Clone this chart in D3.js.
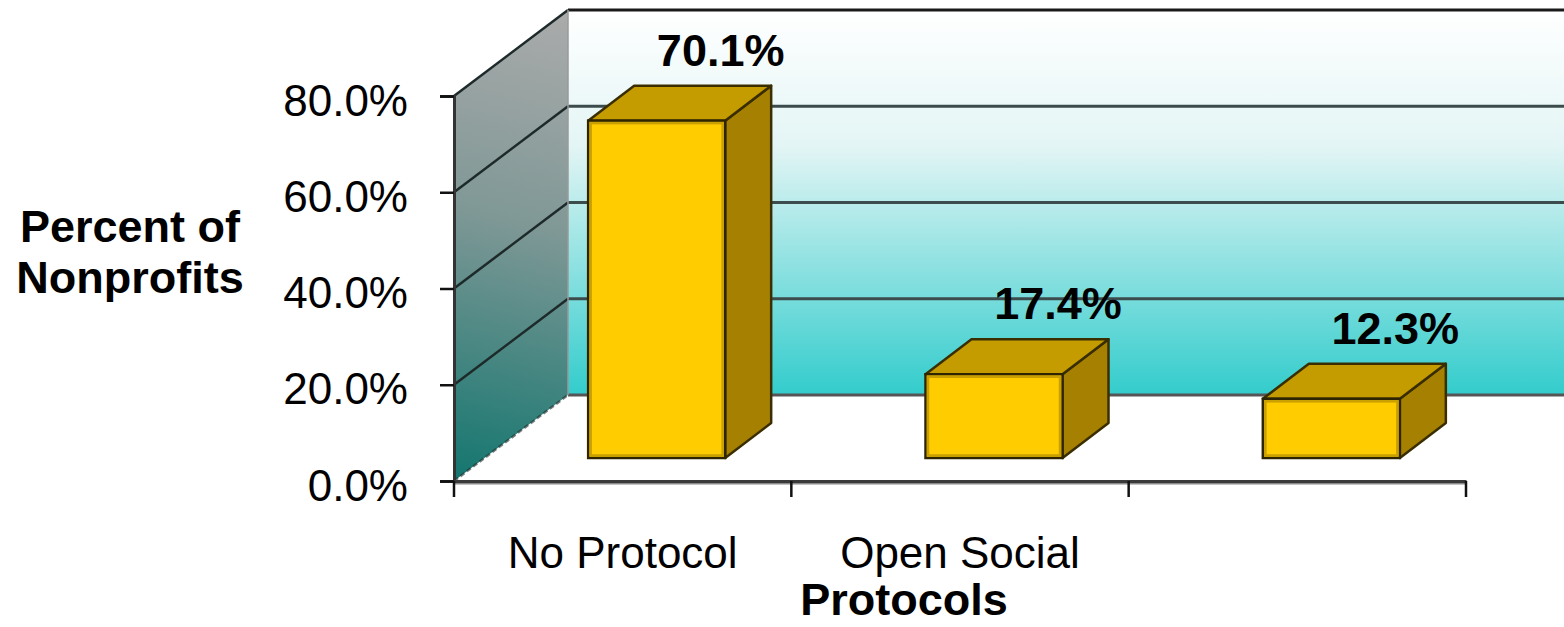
<!DOCTYPE html>
<html>
<head>
<meta charset="utf-8">
<script src="https://cdn.jsdelivr.net/npm/d3@7"></script>
<style>
  html, body { margin: 0; padding: 0; background: #ffffff; }
  svg { display: block; }
  text { font-family: "Liberation Sans", Arial, sans-serif; fill: #000; }
</style>
</head>
<body>
<svg id="chart" width="1564" height="627"></svg>
<script>
// ---- data ----
const categories = ["No Protocol", "Open Social", ""];
const values = [70.1, 17.4, 12.3];
const valueLabels = ["70.1%", "17.4%", "12.3%"];
const yTicks = [0, 20, 40, 60, 80];
const yTickLabels = ["0.0%", "20.0%", "40.0%", "60.0%", "80.0%"];
const yTitleLines = ["Percent of", "Nonprofits"];
const xTitle = "Protocols";

// ---- layout ----
const W = 1564, H = 627;
const plotLeft = 454, plotRight = 1466, plotBottom = 481, plotTop = 96;
const depthX = 114, depthY = 86;        // wall depth
const barShiftX = 34, barShiftY = 23;   // bar front face offset into depth
const barDX = 46, barDY = 35;           // bar own depth
const barW = 137;

const svg = d3.select("#chart");
const defs = svg.append("defs");

const x = d3.scaleBand().domain(categories).range([plotLeft, plotRight]).padding(0);
const y = d3.scaleLinear().domain([0, 80]).range([plotBottom, plotTop]);

// gradients
const gBack = defs.append("linearGradient").attr("id", "gBack")
  .attr("gradientUnits", "userSpaceOnUse")
  .attr("x1", 0).attr("x2", 0).attr("y1", y(80) - depthY).attr("y2", y(0) - depthY);
gBack.append("stop").attr("offset", "0%").attr("stop-color", "#ffffff");
gBack.append("stop").attr("offset", "35%").attr("stop-color", "#e4f5f5");
gBack.append("stop").attr("offset", "100%").attr("stop-color", "#33cccc");

const gSide = defs.append("linearGradient").attr("id", "gSide")
  .attr("gradientUnits", "userSpaceOnUse")
  .attr("x1", plotLeft + depthX).attr("x2", plotLeft).attr("y1", y(80) - depthY).attr("y2", y(0));
gSide.append("stop").attr("offset", "0%").attr("stop-color", "#ababab");
gSide.append("stop").attr("offset", "45%").attr("stop-color", "#7f9896");
gSide.append("stop").attr("offset", "100%").attr("stop-color", "#13766f");

// ---- back wall ----
const backLeft = plotLeft + depthX;
const backRight = plotRight + depthX;
svg.append("rect")
  .attr("x", backLeft).attr("y", y(80) - depthY)
  .attr("width", backRight - backLeft).attr("height", y(0) - y(80))
  .attr("fill", "url(#gBack)");

// back wall gridlines
svg.append("g").selectAll("line").data(yTicks).join("line")
  .attr("x1", backLeft).attr("x2", backRight)
  .attr("y1", d => y(d) - depthY).attr("y2", d => y(d) - depthY)
  .attr("stroke", d => d === 80 ? "#1a1a1a" : (d === 0 ? "#555555" : "#3c4c4c"))
  .attr("stroke-width", 3);

// ---- side wall ----
svg.append("path")
  .attr("d", `M${plotLeft},${y(0)} L${plotLeft},${y(80)} L${backLeft},${y(80) - depthY} L${backLeft},${y(0) - depthY} Z`)
  .attr("fill", "url(#gSide)");
svg.append("g").selectAll("line").data(yTicks).join("line")
  .attr("x1", plotLeft).attr("x2", backLeft)
  .attr("y1", d => y(d)).attr("y2", d => y(d) - depthY)
  .attr("stroke", "#1e2a2a").attr("stroke-width", 2.5)
  .attr("stroke-dasharray", d => d === 0 ? "5,3" : null)
  .attr("opacity", d => d === 0 ? 0.6 : 1);
svg.append("line")
  .attr("x1", backLeft).attr("x2", backLeft)
  .attr("y1", y(80) - depthY).attr("y2", y(0) - depthY)
  .attr("stroke", "#9a9a9a").attr("stroke-width", 1.5);

// ---- bars ----
const bars = svg.append("g");
values.forEach((v, i) => {
  const cx = x(categories[i]) + x.bandwidth() / 2 + barShiftX;
  const x0 = cx - barW / 2, x1 = cx + barW / 2;
  const yb = y(0) - barShiftY;
  const yt = y(v) - barShiftY;
  const g = bars.append("g");
  // side face
  g.append("path")
    .attr("d", `M${x1},${yt} L${x1 + barDX},${yt - barDY} L${x1 + barDX},${yb - barDY} L${x1},${yb} Z`)
    .attr("fill", "#a68000").attr("stroke", "#3a2e00").attr("stroke-width", 2.5).attr("stroke-linejoin", "round");
  // top face
  g.append("path")
    .attr("d", `M${x0},${yt} L${x0 + barDX},${yt - barDY} L${x1 + barDX},${yt - barDY} L${x1},${yt} Z`)
    .attr("fill", "#c49c00").attr("stroke", "#3a2e00").attr("stroke-width", 2.5).attr("stroke-linejoin", "round");
  // front face
  g.append("rect")
    .attr("x", x0).attr("y", yt).attr("width", barW).attr("height", yb - yt)
    .attr("fill", "#ffcc00").attr("stroke", "#2e2500").attr("stroke-width", 2.5);
  g.append("rect")
    .attr("x", x0 + 2.5).attr("y", yt + 2.5).attr("width", barW - 5).attr("height", yb - yt - 5)
    .attr("fill", "none").attr("stroke", "#c9a000").attr("stroke-width", 2.5);
  // value label
  g.append("text")
    .attr("x", cx + 64).attr("y", yt - 55)
    .attr("text-anchor", "middle")
    .attr("font-size", 45).attr("font-weight", "bold")
    .text(valueLabels[i]);
});

// ---- y axis ----
const yAxis = svg.append("g").attr("transform", `translate(${plotLeft},0)`)
  .call(d3.axisLeft(y).tickValues(yTicks).tickFormat((d, i) => yTickLabels[i]).tickSize(14).tickPadding(32));
yAxis.select(".domain").attr("stroke", "#333333").attr("stroke-width", 3);
yAxis.selectAll(".tick line").attr("stroke", "#111111").attr("stroke-width", 2.5);
yAxis.selectAll(".tick text")
  .attr("font-size", 44).attr("font-family", "'Liberation Sans', Arial, sans-serif")
  .attr("dy", 19).attr("fill", "#000");

// ---- x axis ----
svg.append("line")
  .attr("x1", plotLeft).attr("x2", plotRight)
  .attr("y1", plotBottom + 2).attr("y2", plotBottom + 2)
  .attr("stroke", "#8a8a8a").attr("stroke-width", 3);
const xAxis = svg.append("g").attr("transform", `translate(0,${plotBottom})`)
  .call(d3.axisBottom(x).tickSize(0).tickPadding(0));
xAxis.select(".domain").attr("stroke", "#3a3a3a").attr("stroke-width", 3);
xAxis.selectAll(".tick text")
  .attr("font-size", 44).attr("font-family", "'Liberation Sans', Arial, sans-serif")
  .attr("y", 87).attr("dy", 0).attr("fill", "#000");
const boundaries = categories.map(c => x(c)).concat([x(categories[categories.length - 1]) + x.bandwidth()]);
svg.append("g").selectAll("line").data(boundaries).join("line")
  .attr("x1", d => d).attr("x2", d => d)
  .attr("y1", plotBottom).attr("y2", plotBottom + 16)
  .attr("stroke", "#111111").attr("stroke-width", 2.5);

// ---- axis titles ----
svg.append("text")
  .attr("x", 130).attr("y", 242)
  .attr("text-anchor", "middle").attr("font-size", 45).attr("font-weight", "bold")
  .selectAll("tspan").data(yTitleLines).join("tspan")
  .attr("x", 130).attr("dy", (d, i) => i === 0 ? 0 : 51)
  .text(d => d);

svg.append("text")
  .attr("x", 904).attr("y", 615)
  .attr("text-anchor", "middle").attr("font-size", 45).attr("font-weight", "bold")
  .text(xTitle);
</script>
</body>
</html>
